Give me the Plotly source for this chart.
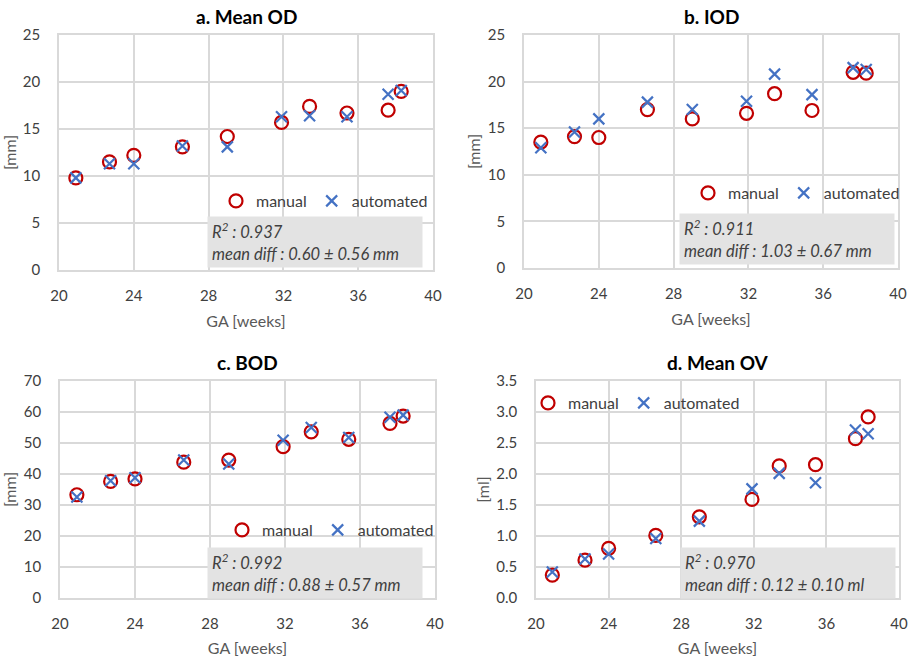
import plotly.graph_objects as go

ga = [20.9, 22.7, 24.0, 26.6, 29.0, 31.9, 33.4, 35.4, 37.6, 38.3]

od_manual = [9.8, 11.5, 12.2, 13.1, 14.2, 15.7, 17.4, 16.7, 17.0, 19.0]
od_auto = [9.8, 11.3, 11.3, 13.2, 13.1, 16.3, 16.4, 16.3, 18.7, 19.1]

iod_manual = [13.5, 14.1, 14.0, 17.0, 16.0, 16.6, 18.7, 16.9, 21.0, 20.9]
iod_auto = [12.9, 14.6, 16.0, 17.8, 17.0, 17.9, 20.8, 18.6, 21.5, 21.3]

bod_manual = [33.3, 37.6, 38.4, 43.8, 44.5, 48.8, 53.6, 51.2, 56.3, 58.7]
bod_auto = [32.6, 37.8, 38.8, 44.5, 43.2, 50.9, 55.0, 51.8, 58.3, 59.0]

ov_manual = [0.37, 0.61, 0.80, 1.01, 1.31, 1.59, 2.13, 2.15, 2.57, 2.92]
ov_auto = [0.42, 0.63, 0.71, 0.96, 1.24, 1.76, 2.01, 1.86, 2.71, 2.65]

titles = ["a. Mean OD", "b. IOD", "c. BOD", "d. Mean OV"]
y_titles = ["[mm]", "[mm]", "[mm]", "[ml]"]
stats = [
    ("0.937", "0.60 ± 0.56 mm"),
    ("0.911", "1.03 ± 0.67 mm"),
    ("0.992", "0.88 ± 0.57 mm"),
    ("0.970", "0.12 ± 0.10 ml"),
]
y_ranges = [(0, 25), (0, 25), (0, 70), (0, 3.5)]
y_dticks = [5, 5, 10, 0.5]
x_ticks = [20, 24, 28, 32, 36, 40]

W, H = 913, 657
# pixel boxes of plot areas: (x0, x1, ytop, ybottom)
boxes = [(59, 433, 35, 270), (524, 898, 35, 268), (60, 435, 381, 598), (536, 899, 381, 598)]
legend_pos = [(216, 201), (688, 193), (222, 530), (528, 403)]
stat_boxes = [(207, 216), (679, 213), (207, 547), (680, 547)]

FONT = "Lato"
RED = "#c00000"
BLUE = "#4472c4"

fig = go.Figure()
series = [(od_manual, od_auto), (iod_manual, iod_auto), (bod_manual, bod_auto), (ov_manual, ov_auto)]

layout = dict(
    width=W, height=H, margin=dict(l=0, r=0, t=0, b=0, autoexpand=False),
    paper_bgcolor="white", plot_bgcolor="white",
    font=dict(family=FONT, size=15, color="#595959"),
    annotations=[], showlegend=True,
)

for i, (man, aut) in enumerate(series):
    k = "" if i == 0 else str(i + 1)
    lg = "legend" if i == 0 else f"legend{i+1}"
    fig.add_trace(go.Scatter(
        x=ga, y=man, mode="markers", name="manual", xaxis="x" + k, yaxis="y" + k,
        legend=lg,
        marker=dict(symbol="circle-open", size=13, color=RED, line=dict(width=2.2, color=RED)),
    ))
    fig.add_trace(go.Scatter(
        x=ga, y=aut, mode="markers", name="automated", xaxis="x" + k, yaxis="y" + k,
        legend=lg,
        marker=dict(symbol="x-thin-open", size=11, color=BLUE, line=dict(width=2.2, color=BLUE)),
    ))
    x0, x1, yt, yb = boxes[i]
    layout["xaxis" + k] = dict(
        domain=[x0 / W, x1 / W], anchor="y" + k, range=[20, 40], tickvals=x_ticks,
        showgrid=True, gridcolor="#d9d9d9", gridwidth=1.5, zeroline=False,
        showline=True, linecolor="#d9d9d9", linewidth=1.5, mirror=True, ticks="",
        automargin=False, ticklabelstandoff=11,
        tickfont=dict(size=15, color="#404040"),
        title=dict(text="GA [weeks]", font=dict(size=16, color="#595959"), standoff=13),
    )
    layout["yaxis" + k] = dict(
        domain=[1 - yb / H, 1 - yt / H], anchor="x" + k, range=list(y_ranges[i]),
        dtick=y_dticks[i], tick0=0,
        tickformat=".1f" if i == 3 else "d",
        showgrid=True, gridcolor="#d9d9d9", gridwidth=1.5, zeroline=False,
        showline=True, linecolor="#d9d9d9", linewidth=1.5, mirror=True, ticks="",
        automargin=False, ticklabelstandoff=14,
        tickfont=dict(size=15, color="#404040"),
        title=dict(text=y_titles[i], font=dict(size=16, color="#595959"), standoff=3),
    )
    lx, ly = legend_pos[i]
    layout[lg] = dict(
        x=lx / W, y=1 - ly / H, xanchor="left", yanchor="middle", orientation="h",
        bgcolor="rgba(0,0,0,0)", font=dict(size=16, color="#404040", family=FONT),
        itemwidth=30, tracegroupgap=0,
    )
    # title
    layout["annotations"].append(dict(
        text="<b>" + titles[i] + "</b>", xref="paper", yref="paper",
        x=(x0 + x1) / 2 / W, y=1 - (yt - 19) / H, xanchor="center", yanchor="middle",
        showarrow=False, font=dict(size=19, color="#000000", family=FONT),
    ))
    sx, sy = stat_boxes[i]
    r2, md = stats[i]
    layout["annotations"].append(dict(
        text=f"<i>R<sup>2</sup> : {r2}<br>mean diff : {md}</i>",
        xref="paper", yref="paper", x=sx / W, y=1 - sy / H,
        xanchor="left", yanchor="top", align="left", valign="middle",
        showarrow=False, bgcolor="#e3e3e3", width=206, height=42, borderpad=4,
        font=dict(size=16.5, color="#404040", family=FONT),
    ))

fig.update_layout(**layout)
fig.write_html("out.html", config={"displayModeBar": False},
               post_script="document.body.style.margin='0px';")
